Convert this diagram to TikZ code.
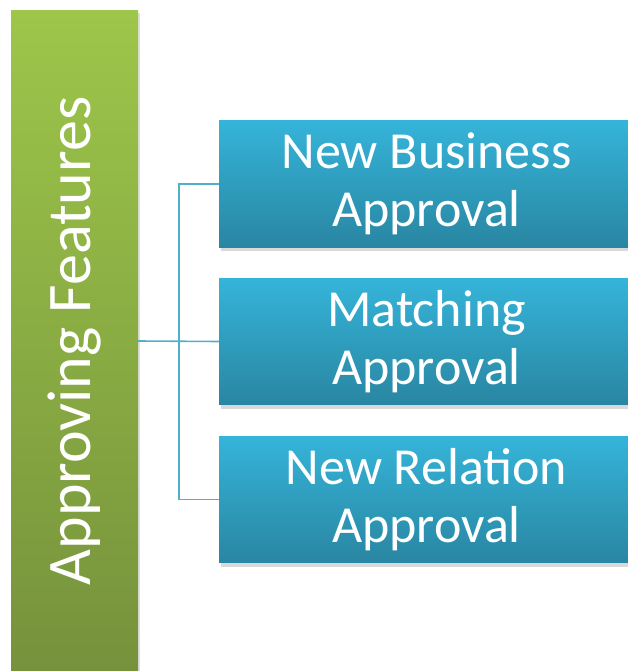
\documentclass[tikz,border=0pt]{standalone}
\usepackage{fontspec}
\setmainfont{Carlito}
\usetikzlibrary{shadows}

\definecolor{greentop}{RGB}{157,198,74}
\definecolor{greenbot}{RGB}{118,146,60}
\definecolor{bluetop}{RGB}{53,180,217}
\definecolor{bluebot}{RGB}{41,134,162}
\definecolor{connline}{RGB}{80,176,204}

\begin{document}
\begin{tikzpicture}[x=1pt,y=-1pt,
	bar/.style={minimum width=127pt, minimum height=660pt, inner sep=0pt,
		top color=greentop, bottom color=greenbot,
		drop shadow={opacity=.25, shadow xshift=2pt, shadow yshift=-2pt}},
	featbox/.style={minimum width=415pt, minimum height=126pt, inner sep=0pt,
		top color=bluetop, bottom color=bluebot, text=white, align=center,
		font=\fontsize{52}{58}\selectfont,
		drop shadow={opacity=.3, shadow xshift=2pt, shadow yshift=-4pt}},
	conn/.style={draw=connline, line width=1.6pt}]
\useasboundingbox (0,0) rectangle (627,671);

\node[bar] (features) at (74.5,341) {};
\node[rotate=90, text=white, font=\fontsize{62}{72}\selectfont] (featlabel) at (features.center) {Approving Features};

\node[featbox] (business) at (426.5,184) {New Business\\Approval};
\node[featbox] (matching) at (426.5,341.5) {Matching\\Approval};
\node[featbox] (relation) at (426.5,499.5) {New Relation\\Approval};

% tree lines
\draw[conn] (features.east) -- (matching.west);
\draw[conn] (business.west) -- ++(-40,0) |- (relation.west);
\end{tikzpicture}
\end{document}
